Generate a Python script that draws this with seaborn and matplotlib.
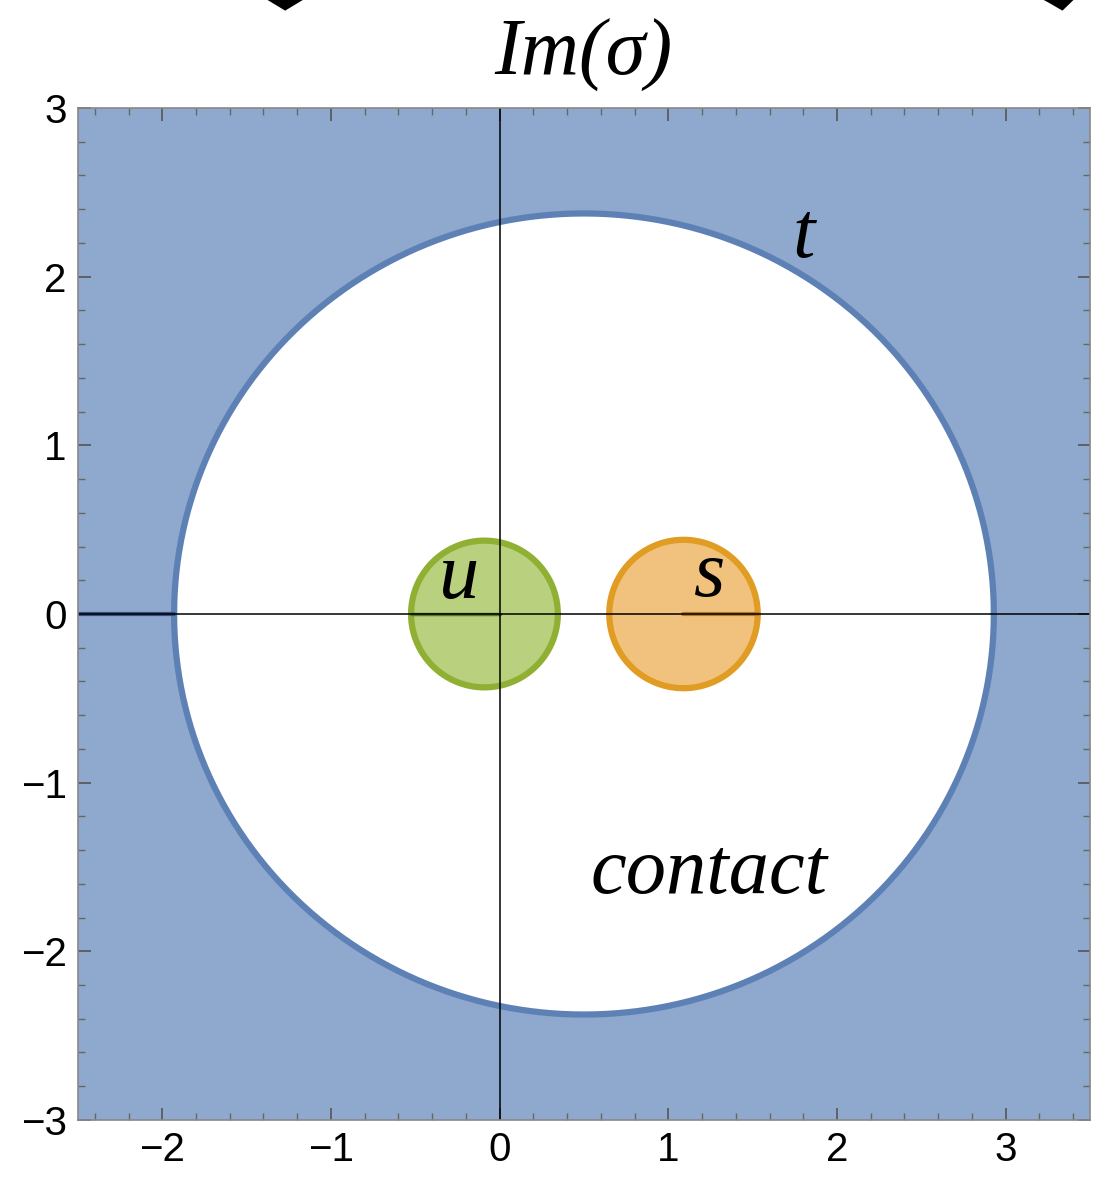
import numpy as np
import pandas as pd
import matplotlib
matplotlib.use("Agg")
import matplotlib.pyplot as plt
from matplotlib.patches import Ellipse, Polygon
from matplotlib.ticker import MultipleLocator
import seaborn as sns

# Regions in the complex sigma plane: (name, centre_x, centre_y, radius_x, radius_y)
region_names = ["t", "u", "s"]
centre_x = [0.5, -0.09, 1.09]
centre_y = [0.0, 0.0, 0.0]
radius_x = [2.43, 0.435, 0.44]
radius_y = [2.375, 0.435, 0.44]
edge_colors = ["#5E81B5", "#8FB032", "#E19C24"]
fill_colors = ["#8FA8CE", "#B9D17E", "#F1C27D"]

# Labels placed in the plane
label_text = ["t", "u", "s", "contact"]
label_x = [1.80, -0.24, 1.24, 1.24]
label_y = [2.23, 0.21, 0.22, -1.54]
label_size = [58, 58, 58, 58]

x_ticks = [-2, -1, 0, 1, 2, 3]
y_ticks = [-3, -2, -1, 0, 1, 2, 3]
x_limits = (-2.5, 3.5)
y_limits = (-3.0, 3.0)

sns.set_theme(style="white")
plt.rcParams["font.family"] = ["Liberation Sans", "DejaVu Sans"]

fig = plt.figure(figsize=(11.01, 11.82), dpi=100)
ax = fig.add_axes([0.0708, 0.0525, 0.9192, 0.8561])

# outer region: everything outside the t-ellipse is shaded
ax.set_facecolor(fill_colors[0])
ax.add_patch(Ellipse((centre_x[0], centre_y[0]), 2 * radius_x[0], 2 * radius_y[0],
                     facecolor="white", edgecolor="none", zorder=1))

# boundaries drawn as parametric curves with seaborn
theta = np.linspace(0, 2 * np.pi, 721)
for i, name in enumerate(region_names):
    bx = centre_x[i] + radius_x[i] * np.cos(theta)
    by = centre_y[i] + radius_y[i] * np.sin(theta)
    if i > 0:
        ax.add_patch(Polygon(np.column_stack([bx, by]), closed=True,
                             facecolor=fill_colors[i], edgecolor="none", zorder=2))
    df = pd.DataFrame({"x": bx, "y": by})
    sns.lineplot(data=df, x="x", y="y", sort=False, estimator=None, ax=ax,
                 color=edge_colors[i], linewidth=4.5, zorder=3)

# branch-cut segments along the real axis
ax.plot([x_limits[0], centre_x[0] - radius_x[0]], [0, 0], color="#34507f", lw=3, zorder=4)
ax.plot([centre_x[1] - radius_x[1], 0], [0, 0], color="#5d7a1c", lw=2.5, zorder=4)
ax.plot([centre_x[2], centre_x[2] + radius_x[2]], [0, 0], color="#b8791a", lw=3, zorder=4)

# coordinate axes
ax.axhline(0, color="black", lw=1.1, zorder=5)
ax.axvline(0, color="black", lw=1.1, zorder=5)

for txt, lx, ly, fs in zip(label_text, label_x, label_y, label_size):
    ax.text(lx, ly, txt, fontsize=fs, style="italic", family="Liberation Serif",
            ha="center", va="center", color="black", zorder=6)

ax.set_xlim(*x_limits)
ax.set_ylim(*y_limits)
ax.set_xticks(x_ticks)
ax.set_yticks(y_ticks)
ax.set_xticklabels([str(v).replace("-", "\u2212") for v in x_ticks])
ax.set_yticklabels([str(v).replace("-", "\u2212") for v in y_ticks])
ax.xaxis.set_minor_locator(MultipleLocator(0.2))
ax.yaxis.set_minor_locator(MultipleLocator(0.2))
ax.tick_params(which="major", direction="in", length=9, width=1.2, color="#555555",
               labelsize=29, labelcolor="black", pad=8, top=True, right=True,
               bottom=True, left=True, labeltop=False, labelright=False)
ax.tick_params(which="minor", direction="in", length=5, width=1.0, color="#666666",
               top=True, right=True, bottom=True, left=True)
ax.set_xlabel("")
ax.set_ylabel("")
for sp in ax.spines.values():
    sp.set_color("#888888")
    sp.set_linewidth(1.2)
    sp.set_zorder(7)

# axis title above the frame
fig.text(0.530, 0.953, "Im(σ)", fontsize=58, style="italic", family="Liberation Serif",
         ha="center", va="center", color="black")

# arrow tips cut off at the upper edge
fig.patches.append(Polygon([[0.243, 1.0], [0.275, 1.0], [0.259, 0.991]], closed=True,
                           transform=fig.transFigure, facecolor="black", edgecolor="none"))
fig.patches.append(Polygon([[0.948, 1.0], [0.975, 1.0], [0.965, 0.991], [0.952, 0.998]],
                           closed=True, transform=fig.transFigure,
                           facecolor="black", edgecolor="none"))

fig.savefig("out.png", dpi=100)
